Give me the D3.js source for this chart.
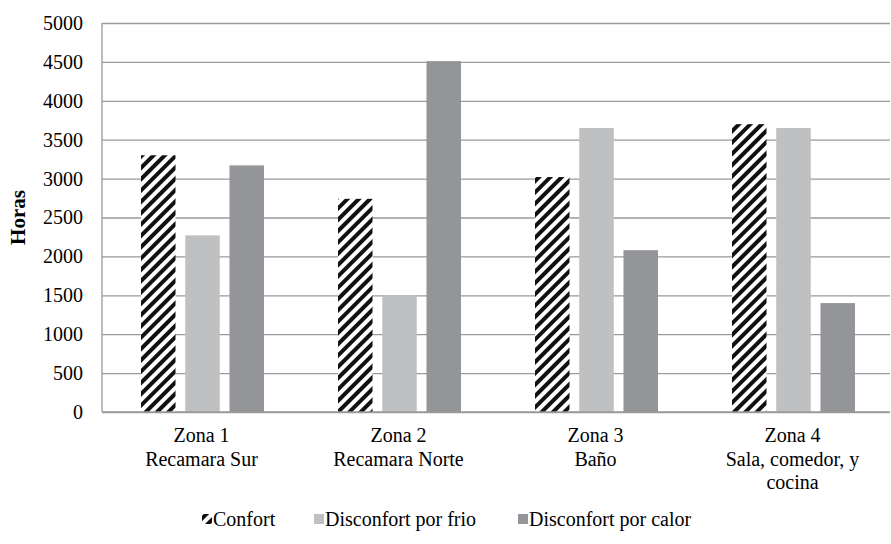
<!DOCTYPE html>
<html>
<head>
<meta charset="utf-8">
<script src="https://cdn.jsdelivr.net/npm/d3@7"></script>
<style>
  body { margin: 0; background: #fff; }
  svg text { font-family: "Liberation Serif", "Times New Roman", serif !important; fill: #000; }
</style>
</head>
<body>
<div id="chart"></div>
<script>
// Data
const zones = ["Zona 1|Recamara Sur", "Zona 2|Recamara Norte", "Zona 3|Baño", "Zona 4|Sala, comedor, y|cocina"];
const seriesNames = ["Confort", "Disconfort por frio", "Disconfort por calor"];
const confort = [3300, 2740, 3020, 3700];
const frio = [2270, 1500, 3650, 3650];
const calor = [3170, 4510, 2080, 1400];
const yTicks = [0, 500, 1000, 1500, 2000, 2500, 3000, 3500, 4000, 4500, 5000];

const width = 891, height = 544;
const margin = {top: 23, right: 1, bottom: 132, left: 102};
const w = width - margin.left - margin.right;
const h = height - margin.top - margin.bottom;

const svg = d3.select("#chart")
    .append("svg")
    .attr("width", width)
    .attr("height", height);

// hatch pattern for Confort
const defs = svg.append("defs");
const pat = defs.append("pattern")
    .attr("id", "hatch")
    .attr("patternUnits", "userSpaceOnUse")
    .attr("width", 8)
    .attr("height", 8)
    .attr("patternTransform", "rotate(45)");
pat.append("rect").attr("width", 8).attr("height", 8).attr("fill", "#fff");
pat.append("rect").attr("width", 4).attr("height", 8).attr("fill", "#111");

const colors = ["url(#hatch)", "#bfc0c2", "#939598"];

const g = svg.append("g")
    .attr("transform", `translate(${margin.left}, ${margin.top})`);

const y = d3.scaleLinear().domain([0, 5000]).range([h, 0]);
const x0 = d3.scaleBand().domain(zones).range([0, w]).padding(0);
const x1 = d3.scaleBand().domain(seriesNames).range([39, 162]).paddingInner(0.22);

// gridlines
g.append("g")
    .attr("class", "grid")
    .call(d3.axisLeft(y).tickValues(yTicks).tickSize(-w).tickFormat(""))
    .call(s => s.select(".domain").remove())
    .call(s => s.selectAll("line").attr("stroke", "#9a9a9a").attr("stroke-width", 1.3));

// y tick labels
g.append("g")
    .call(d3.axisLeft(y).tickValues(yTicks).tickSize(0).tickPadding(19).tickFormat(d3.format("d")))
    .call(s => s.select(".domain").remove())
    .selectAll("text")
    .style("font-size", "20px");

// left axis line
g.append("line")
    .attr("x1", 0).attr("x2", 0).attr("y1", 0).attr("y2", h)
    .attr("stroke", "#9a9a9a").attr("stroke-width", 1.3);

// bars
const seriesData = [confort, frio, calor];
const rows = [];
zones.forEach((z, i) => {
    seriesNames.forEach((s, j) => rows.push({zone: z, key: s, value: seriesData[j][i], j: j}));
});
g.selectAll(".bar")
    .data(rows)
    .join("rect")
    .attr("class", "bar")
    .attr("x", d => x0(d.zone) + x1(d.key))
    .attr("width", x1.bandwidth())
    .attr("y", d => y(d.value))
    .attr("height", d => h - y(d.value))
    .attr("fill", d => colors[d.j]);

// bottom axis line
g.append("line")
    .attr("x1", 0).attr("x2", w).attr("y1", h).attr("y2", h)
    .attr("stroke", "#9a9a9a").attr("stroke-width", 1.3);

// category labels
zones.forEach(z => {
    const cx = x0(z) + x0.bandwidth() / 2 + 1;
    const t = g.append("text")
        .attr("text-anchor", "middle")
        .attr("x", cx)
        .attr("y", h + 30)
        .style("font-size", "20px");
    z.split("|").forEach((line, k) => {
        t.append("tspan")
            .attr("x", cx)
            .attr("dy", k === 0 ? 0 : 23.5)
            .text(line);
    });
});

// y axis title
svg.append("text")
    .attr("transform", `translate(25, ${margin.top + h / 2}) rotate(-90)`)
    .attr("text-anchor", "middle")
    .style("font-size", "21px")
    .style("font-weight", "bold")
    .text("Horas");

// legend
const legendX = [202, 314, 518];
const legend = svg.append("g").attr("transform", "translate(0, 514)");
seriesNames.forEach((s, j) => {
    legend.append("rect")
        .attr("x", legendX[j])
        .attr("y", 0)
        .attr("width", 10)
        .attr("height", 10)
        .attr("fill", colors[j]);
    legend.append("text")
        .attr("x", legendX[j] + 11)
        .attr("y", 12)
        .style("font-size", "20px")
        .text(s);
});
</script>
</body>
</html>
